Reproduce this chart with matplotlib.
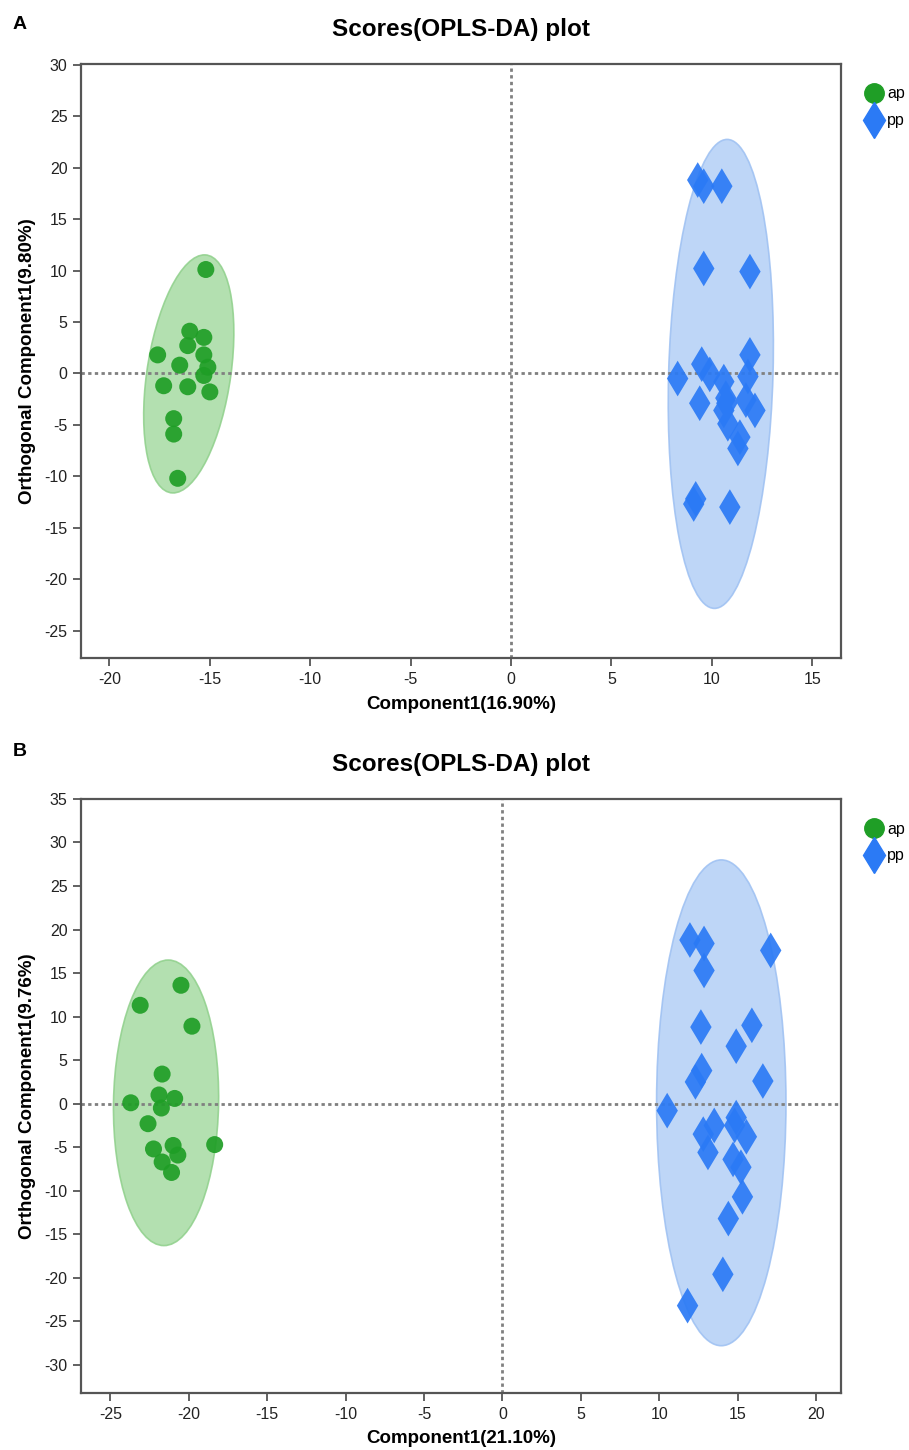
import numpy as np
import matplotlib.pyplot as plt
from matplotlib.patches import Ellipse
from matplotlib.lines import Line2D

plt.rcParams['font.family'] = ['Liberation Sans', 'DejaVu Sans']
plt.rcParams['axes.unicode_minus'] = False

# Panel A scores
a_ap_x = [-15.2, -16.0, -15.3, -16.1, -17.6, -15.3, -16.5, -15.1, -15.3, -17.3, -16.1, -15.0, -16.8, -16.8, -16.6]
a_ap_y = [10.1, 4.1, 3.5, 2.7, 1.8, 1.8, 0.8, 0.6, -0.2, -1.2, -1.3, -1.8, -4.4, -5.9, -10.2]
a_pp_x = [9.3, 9.6, 10.5, 9.6, 11.9, 11.9, 9.5, 9.9, 8.3, 10.6, 11.8, 9.4, 10.75, 10.6, 10.7,
          11.7, 12.15, 10.8, 11.4, 11.3, 9.1, 9.2, 10.9]
a_pp_y = [18.8, 18.2, 18.2, 10.2, 9.9, 1.8, 0.9, -0.1, -0.5, -0.8, -0.3, -2.9, -2.9, -3.6, -2.4,
          -2.6, -3.6, -4.9, -6.2, -7.3, -12.7, -12.2, -13.0]
a_ell_ap = (-16.05, -0.05, 23.2, 4.2, 86.0)   # cx, cy, width, height, angle
a_ell_pp = (10.45, -0.05, 45.6, 5.2, 89.2)

# Panel B scores
b_ap_x = [-20.5, -23.1, -19.8, -21.7, -21.9, -20.9, -23.7, -21.75, -22.6, -22.25, -21.0, -20.7, -21.7, -21.1, -18.35]
b_ap_y = [13.6, 11.3, 8.9, 3.4, 1.0, 0.6, 0.1, -0.5, -2.3, -5.2, -4.8, -5.9, -6.7, -7.9, -4.7]
b_pp_x = [11.95, 12.85, 17.1, 12.85, 12.65, 15.9, 14.9, 12.7, 12.3, 16.6, 10.5, 13.5, 12.8, 14.9,
          14.8, 15.55, 13.1, 14.7, 15.2, 15.3, 14.4, 14.05, 11.8]
b_pp_y = [18.8, 18.4, 17.6, 15.3, 8.8, 9.0, 6.6, 3.8, 2.5, 2.6, -0.8, -2.5, -3.5, -1.6,
          -2.5, -3.8, -5.6, -6.4, -7.3, -10.7, -13.2, -19.6, -23.2]
b_ell_ap = (-21.45, 0.1, 32.8, 6.7, 89.5)
b_ell_pp = (13.95, 0.1, 55.8, 8.25, 90.0)

green = '#1f9e26'
blue = '#2b7af5'
green_fill = '#a6dba3'
blue_fill = '#b3cff6'

fig = plt.figure(figsize=(9.09, 14.5), dpi=100)


def panel(rect, apx, apy, ppx, ppy, ell_ap, ell_pp, xlim, ylim, xticks, yticks, xlab, ylab, letter, ly):
    ax = fig.add_axes(rect)
    for e, fc, ec in [(ell_ap, green_fill, '#8fd08b'), (ell_pp, blue_fill, '#9dc0f2')]:
        ax.add_patch(Ellipse((e[0], e[1]), e[2], e[3], angle=e[4], facecolor=fc,
                             edgecolor=ec, lw=1.2, alpha=0.85, zorder=1))
    ax.axhline(0, color='#808080', ls=(0, (1.2, 1.2)), lw=2, zorder=2)
    ax.axvline(0, color='#808080', ls=(0, (1.2, 1.2)), lw=2, zorder=2)
    ax.scatter(apx, apy, s=150, marker='o', color=green, alpha=0.92, edgecolors='none', zorder=3)
    ax.scatter(ppx, ppy, s=330, marker='d', color=blue, alpha=0.92, edgecolors='none', zorder=3)
    ax.set_xlim(xlim)
    ax.set_ylim(ylim)
    ax.set_xticks(xticks)
    ax.set_yticks(yticks)
    ax.tick_params(direction='out', length=6, width=1.3, color='#555555', labelsize=11.5,
                   labelcolor='#222222', pad=4)
    for sp in ax.spines.values():
        sp.set_color('#555555')
        sp.set_linewidth(1.6)
    ax.set_xlabel(xlab, fontsize=13.5, fontweight='bold', labelpad=6)
    ax.set_ylabel(ylab, fontsize=13.5, fontweight='bold', labelpad=6)
    ax.set_title('Scores(OPLS-DA) plot', fontsize=17.5, fontweight='bold', pad=20)
    fig.text(0.014, ly, letter, fontsize=14, fontweight='bold', va='center')
    handles = [Line2D([], [], marker='o', color=green, ls='none', markersize=14),
               Line2D([], [], marker='d', color=blue, ls='none', markersize=18)]
    ax.legend(handles, ['ap', 'pp'], loc='upper left', bbox_to_anchor=(1.03, 0.962), frameon=False,
              fontsize=11.5, handlelength=1.2, handletextpad=0.25, labelspacing=0.75,
              borderaxespad=0, borderpad=0)
    return ax


panel([0.0895, 0.546, 0.836, 0.410], a_ap_x, a_ap_y, a_pp_x, a_pp_y, a_ell_ap, a_ell_pp,
      (-21.4, 16.45), (-27.7, 30.1), np.arange(-20, 16, 5), np.arange(-25, 31, 5),
      'Component1(16.90%)', 'Orthogonal Component1(9.80%)', 'A', 0.983)
panel([0.0895, 0.0395, 0.836, 0.4095], b_ap_x, b_ap_y, b_pp_x, b_pp_y, b_ell_ap, b_ell_pp,
      (-26.85, 21.6), (-33.2, 35.0), np.arange(-25, 21, 5), np.arange(-30, 36, 5),
      'Component1(21.10%)', 'Orthogonal Component1(9.76%)', 'B', 0.482)

fig.savefig('out.png', dpi=100)
